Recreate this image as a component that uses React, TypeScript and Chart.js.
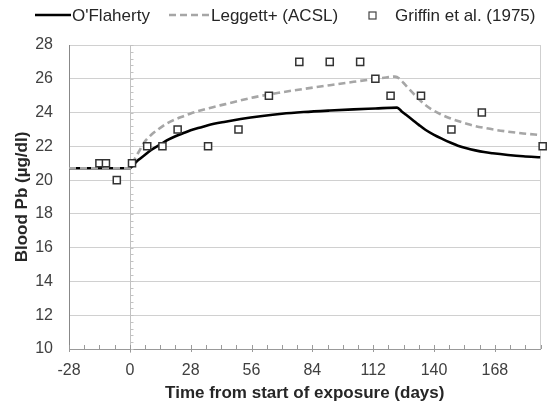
import React, { useEffect, useRef } from 'react';
import { Chart, registerables } from 'chart.js';

Chart.register(...registerables);

// O'Flaherty model (days, µg/dl)
const ofDays = [-28, 0, 2, 4, 7, 10, 14, 17, 21, 25, 28, 32, 36, 44, 51, 61, 70, 80, 92, 103, 113, 123, 125, 127, 130, 133, 136, 140, 144, 148, 151, 155, 159, 163, 167, 174, 181, 189];
const ofPb = [20.7, 20.7, 20.95, 21.2, 21.5, 21.8, 22.1, 22.35, 22.6, 22.8, 22.95, 23.1, 23.25, 23.46, 23.62, 23.8, 23.93, 24.03, 24.12, 24.19, 24.24, 24.29, 24.08, 23.88, 23.58, 23.27, 22.98, 22.68, 22.43, 22.2, 22.04, 21.88, 21.76, 21.66, 21.59, 21.49, 21.41, 21.35];

// Leggett+ (ACSL) model
const lgDays = [-28, 0, 2, 4, 7, 10, 13, 17, 21, 25, 28, 36, 44, 57, 70, 80, 92, 103, 112, 118, 122, 124, 126, 129, 133, 136, 139, 143, 147, 151, 155, 159, 164, 169, 174, 181, 189];
const lgPb = [20.7, 20.7, 21.2, 21.65, 22.3, 22.7, 23.0, 23.35, 23.6, 23.8, 23.95, 24.25, 24.5, 24.9, 25.2, 25.4, 25.62, 25.82, 25.98, 26.08, 26.13, 26.02, 25.75, 25.33, 24.8, 24.45, 24.18, 23.9, 23.68, 23.5, 23.34, 23.2, 23.07, 22.96, 22.87, 22.76, 22.67];

// Griffin et al. (1975) observations
const obsDays = [-14, -11, -6, 1, 8, 15, 22, 36, 50, 64, 78, 92, 106, 113, 120, 134, 148, 162, 190];
const obsPb = [21, 21, 20, 21, 22, 22, 23, 22, 23, 25, 27, 27, 27, 26, 25, 25, 23, 24, 22];

const xTickValues = [-28, 0, 28, 56, 84, 112, 140, 168];
const seriesNames = ["O'Flaherty", 'Leggett+ (ACSL)', 'Griffin et al. (1975)'];
const xTitle = 'Time from start of exposure (days)';
const yTitle = 'Blood Pb (µg/dl)';

const X_MIN = -28;
const X_MAX = 189;
const Y_MIN = 10;
const Y_MAX = 28;

const FONT = "'Liberation Sans', Arial, sans-serif";

const decorPlugin = {
  id: 'decor',
  beforeDatasetsDraw(chart: any) {
    const { ctx, chartArea: a, scales } = chart;
    const x = scales.x;
    const y = scales.y;
    const seg = (x1: number, y1: number, x2: number, y2: number) => {
      ctx.beginPath();
      ctx.moveTo(x1, y1);
      ctx.lineTo(x2, y2);
      ctx.stroke();
    };
    ctx.save();
    ctx.lineWidth = 1;
    // right border
    ctx.strokeStyle = '#cfcfcf';
    seg(Math.round(a.right) - 0.5, a.top, Math.round(a.right) - 0.5, a.bottom);
    // vertical axis line at day 0 with minor ticks
    const x0 = Math.round(x.getPixelForValue(0)) + 0.5;
    ctx.strokeStyle = '#c2c2c2';
    seg(x0, a.top, x0, a.bottom + 4);
    const nMinor = Math.round((Y_MAX - Y_MIN) / 0.4);
    for (let i = 0; i <= nMinor; i++) {
      const py = Math.round(y.getPixelForValue(Y_MIN + i * 0.4)) + 0.5;
      seg(x0, py, x0 + 3, py);
    }
    // x-axis ticks (major every 28, minor every 7)
    ctx.strokeStyle = '#9a9a9a';
    for (let d = X_MIN; d <= X_MAX; d += 7) {
      const px = Math.round(x.getPixelForValue(d)) + 0.5;
      const major = ((d % 28) + 28) % 28 === 0;
      seg(px, a.bottom - 4, px, major ? a.bottom + 3 : a.bottom);
    }
    ctx.restore();
  },
  afterDraw(chart: any) {
    const { ctx } = chart;
    ctx.save();
    ctx.font = `17px ${FONT}`;
    ctx.fillStyle = '#262626';
    ctx.textBaseline = 'middle';
    ctx.textAlign = 'left';
    const ly = 15;
    // O'Flaherty
    ctx.strokeStyle = '#000';
    ctx.lineWidth = 2.5;
    ctx.beginPath();
    ctx.moveTo(35, ly);
    ctx.lineTo(71, ly);
    ctx.stroke();
    ctx.fillText(seriesNames[0], 72, ly + 1);
    // Leggett
    ctx.strokeStyle = '#a6a6a6';
    ctx.setLineDash([7, 4]);
    ctx.beginPath();
    ctx.moveTo(169, ly);
    ctx.lineTo(209, ly);
    ctx.stroke();
    ctx.setLineDash([]);
    ctx.fillText(seriesNames[1], 211, ly + 1);
    // Griffin
    ctx.strokeStyle = '#444';
    ctx.lineWidth = 1.2;
    ctx.fillStyle = '#fff';
    ctx.fillRect(369, ly - 3, 7, 7);
    ctx.strokeRect(369, ly - 3, 7, 7);
    ctx.fillStyle = '#262626';
    ctx.fillText(seriesNames[2], 395, ly + 1);
    ctx.restore();
  },
};

export default function App() {
  const ref = useRef<HTMLCanvasElement | null>(null);

  useEffect(() => {
    if (!ref.current) return;
    Chart.defaults.font.family = FONT;
    const chart = new Chart(ref.current, {
      type: 'line',
      data: {
        datasets: [
          {
            label: seriesNames[0],
            data: ofDays.map((d, i) => ({ x: d, y: ofPb[i] })),
            borderColor: '#000000',
            borderWidth: 2.6,
            pointRadius: 0,
            fill: false,
            cubicInterpolationMode: 'monotone',
            order: 2,
          },
          {
            label: seriesNames[1],
            data: lgDays.map((d, i) => ({ x: d, y: lgPb[i] })),
            borderColor: '#a6a6a6',
            borderWidth: 2.6,
            borderDash: [7, 4],
            pointRadius: 0,
            fill: false,
            cubicInterpolationMode: 'monotone',
            order: 1,
          },
          {
            label: seriesNames[2],
            data: obsDays.map((d, i) => ({ x: d, y: obsPb[i] })),
            showLine: false,
            pointStyle: 'rect',
            pointRadius: 5,
            pointBorderWidth: 1.5,
            pointBorderColor: '#333333',
            pointBackgroundColor: '#ffffff',
            clip: false,
            order: 0,
          } as any,
        ],
      },
      options: {
        responsive: false,
        animation: false,
        devicePixelRatio: 1,
        layout: { padding: { top: 45, right: 4, bottom: 0, left: 0 } },
        plugins: {
          legend: { display: false },
          tooltip: { enabled: false },
        },
        scales: {
          x: {
            type: 'linear',
            min: X_MIN,
            max: X_MAX,
            afterBuildTicks: (s: any) => {
              s.ticks = xTickValues.map((v) => ({ value: v }));
            },
            afterFit: (s: any) => {
              s.height = 59;
            },
            grid: { display: false, drawTicks: false },
            border: { display: true, color: '#999999', width: 1 },
            ticks: {
              font: { size: 16, family: FONT },
              color: '#404040',
              padding: 12,
              maxRotation: 0,
              autoSkip: false,
            },
            title: {
              display: true,
              text: xTitle,
              font: { size: 17, weight: 'bold', family: FONT },
              color: '#262626',
              padding: { top: 0, bottom: 4 },
            },
          },
          y: {
            type: 'linear',
            min: Y_MIN,
            max: Y_MAX,
            afterFit: (s: any) => {
              s.width = 69;
            },
            grid: { color: '#d0d0d0', drawTicks: false, lineWidth: 1 },
            border: { display: true, color: '#888888', width: 1 },
            ticks: {
              stepSize: 2,
              font: { size: 16, family: FONT },
              color: '#404040',
              padding: 16,
            },
            title: {
              display: true,
              text: yTitle,
              font: { size: 17, weight: 'bold', family: FONT },
              color: '#262626',
              padding: { top: 12, bottom: 0 },
            },
          },
        },
      },
      plugins: [decorPlugin],
    } as any);
    return () => chart.destroy();
  }, []);

  return (
    <div style={{ position: 'absolute', left: 0, top: 0, width: 547, height: 408, background: '#fff' }}>
      <canvas ref={ref} width={547} height={408} style={{ display: 'block', width: 547, height: 408 }} />
    </div>
  );
}
